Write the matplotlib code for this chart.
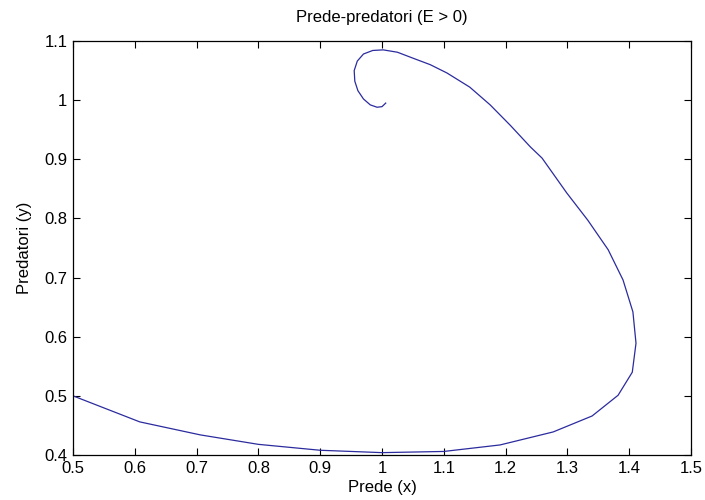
#!/usr/bin/env python3

import numpy as np
from matplotlib import pyplot as plt

# trajectory of the prey-predator system, (x, y) samples from the solver
prede = [0.500, 0.608, 0.706, 0.800, 0.900, 1.000, 1.100, 1.191, 1.277,
         1.340, 1.382, 1.405, 1.411, 1.406, 1.390, 1.366, 1.333, 1.299,
         1.259, 1.240, 1.208, 1.175, 1.142, 1.105, 1.078, 1.050, 1.025,
         1.002, 0.985, 0.970, 0.960, 0.955, 0.956, 0.961, 0.970, 0.981,
         0.992, 1.000, 1.006]
predatori = [0.500, 0.456, 0.434, 0.418, 0.408, 0.404, 0.406, 0.417, 0.439,
             0.466, 0.501, 0.540, 0.589, 0.642, 0.696, 0.747, 0.797, 0.843,
             0.902, 0.921, 0.957, 0.992, 1.022, 1.046, 1.060, 1.071, 1.081,
             1.085, 1.084, 1.078, 1.066, 1.050, 1.032, 1.016, 1.002, 0.992,
             0.988, 0.989, 0.995]

x_ticks = [0.5, 0.6, 0.7, 0.8, 0.9, 1.0, 1.1, 1.2, 1.3, 1.4, 1.5]
x_labels = ['0.5', '0.6', '0.7', '0.8', '0.9', '1', '1.1', '1.2', '1.3', '1.4', '1.5']
y_ticks = [0.4, 0.5, 0.6, 0.7, 0.8, 0.9, 1.0, 1.1]
y_labels = ['0.4', '0.5', '0.6', '0.7', '0.8', '0.9', '1', '1.1']

plt.rcParams['font.family'] = ['Liberation Sans', 'DejaVu Sans']

fig = plt.figure(figsize=(7.05, 5.0), dpi=100)
ax = fig.add_axes([73 / 705, 1 - 455 / 500, 618 / 705, 414 / 500])

ax.plot(prede, predatori, color='#2b2b9e', linewidth=0.9)

ax.set_xlim(0.5, 1.5)
ax.set_ylim(0.4, 1.1)
ax.set_xticks(x_ticks)
ax.set_xticklabels(x_labels)
ax.set_yticks(y_ticks)
ax.set_yticklabels(y_labels)
ax.tick_params(direction='in', length=5, width=0.8, top=True, right=True,
               labelsize=12, colors='black', pad=4)

for side in ax.spines.values():
    side.set_linewidth(0.9)

ax.set_title('Prede-predatori (E > 0)', fontsize=12, pad=14)
ax.set_xlabel('Prede (x)', fontsize=12, labelpad=3)
ax.set_ylabel('Predatori (y)', fontsize=12, labelpad=9)

plt.savefig('out.png', dpi=100)
plt.close()
